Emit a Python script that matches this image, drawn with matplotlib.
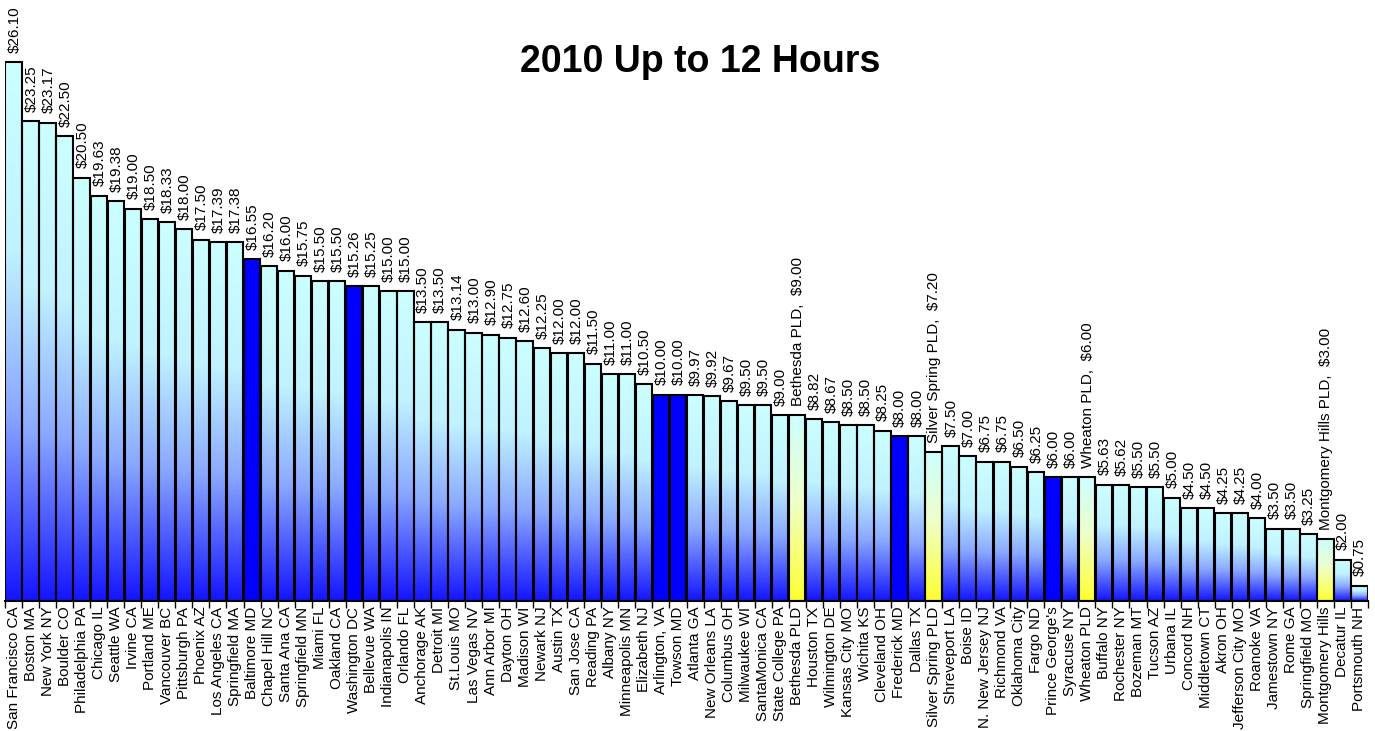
import matplotlib.pyplot as plt
import numpy as np
from matplotlib.colors import LinearSegmentedColormap

plt.rcParams['font.family'] = ['Liberation Sans', 'DejaVu Sans']

# Cities and hourly rate (up to 12 hours), 2010
cities = ['San Francisco CA', 'Boston MA', 'New York NY', 'Boulder CO', 'Philadelphia PA',
          'Chicago IL', 'Seattle WA', 'Irvine CA', 'Portland ME', 'Vancouver BC',
          'Pittsburgh PA', 'Phoenix AZ', 'Los Angeles CA', 'Springfield MA', 'Baltimore MD',
          'Chapel Hill NC', 'Santa Ana CA', 'Springfield MN', 'Miami FL', 'Oakland CA',
          'Washington DC', 'Bellevue WA', 'Indianapolis IN', 'Orlando FL', 'Anchorage AK',
          'Detroit MI', 'St.Louis MO', 'Las Vegas NV', 'Ann Arbor MI', 'Dayton OH',
          'Madison WI', 'Newark NJ', 'Austin TX', 'San Jose CA', 'Reading PA',
          'Albany NY', 'Minneapolis MN', 'Elizabeth NJ', 'Arlington, VA', 'Towson MD',
          'Atlanta GA', 'New Orleans LA', 'Columbus OH', 'Milwaukee WI', 'SantaMonica CA',
          'State College PA', 'Bethesda PLD', 'Houston TX', 'Wilmington DE', 'Kansas City MO',
          'Wichita KS', 'Cleveland OH', 'Frederick MD', 'Dallas TX', 'Silver Spring PLD',
          'Shreveport LA', 'Boise ID', 'N. New Jersey NJ', 'Richmond VA', 'Oklahoma City',
          'Fargo ND', "Prince George's", 'Syracuse NY', 'Wheaton PLD', 'Buffalo NY',
          'Rochester NY', 'Bozeman MT', 'Tucson AZ', 'Urbana IL', 'Concord NH',
          'Middletown CT', 'Akron OH', 'Jefferson City MO', 'Roanoke VA', 'Jamestown NY',
          'Rome GA', 'Springfield MO', 'Montgomery Hills', 'Decatur IL', 'Portsmouth NH']

rates = [26.10, 23.25, 23.17, 22.50, 20.50, 19.63, 19.38, 19.00, 18.50, 18.33,
         18.00, 17.50, 17.39, 17.38, 16.55, 16.20, 16.00, 15.75, 15.50, 15.50,
         15.26, 15.25, 15.00, 15.00, 13.50, 13.50, 13.14, 13.00, 12.90, 12.75,
         12.60, 12.25, 12.00, 12.00, 11.50, 11.00, 11.00, 10.50, 10.00, 10.00,
         9.97, 9.92, 9.67, 9.50, 9.50, 9.00, 9.00, 8.82, 8.67, 8.50,
         8.50, 8.25, 8.00, 8.00, 7.20, 7.50, 7.00, 6.75, 6.75, 6.50,
         6.25, 6.00, 6.00, 6.00, 5.63, 5.62, 5.50, 5.50, 5.00, 4.50,
         4.50, 4.25, 4.25, 4.00, 3.50, 3.50, 3.25, 3.00, 2.00, 0.75]

# Maryland area jurisdictions (solid blue) and library garages (yellow)
maryland = ['Baltimore MD', 'Washington DC', 'Arlington, VA', 'Towson MD',
            'Frederick MD', "Prince George's"]
pld_names = {'Bethesda PLD': 'Bethesda PLD', 'Silver Spring PLD': 'Silver Spring PLD',
             'Wheaton PLD': 'Wheaton PLD', 'Montgomery Hills': 'Montgomery Hills PLD'}

cmap_city = LinearSegmentedColormap.from_list(
    'city', [(0.0, '#ccffff'), (0.35, '#c0f2ff'), (0.65, '#8aa8ff'), (1.0, '#1414ff')])
cmap_pld = LinearSegmentedColormap.from_list(
    'pld', [(0.0, '#ccffff'), (0.45, '#eeffcc'), (1.0, '#ffff30')])
grad = np.linspace(0, 1, 256).reshape(-1, 1)

fig = plt.figure(figsize=(13.75, 7.31), dpi=100)
ax = fig.add_axes([5 / 1375, 130 / 731, 1363 / 1375, 601 / 731])

x = np.arange(len(cities))
w = 0.96
for xi, name, val in zip(x, cities, rates):
    if name in maryland:
        ax.bar(xi, val, width=w, color='#0000ff', edgecolor='black', linewidth=1.5, zorder=3)
    else:
        cm = cmap_pld if name in pld_names else cmap_city
        ax.imshow(grad, cmap=cm, aspect='auto', interpolation='bilinear',
                  extent=[xi - w / 2, xi + w / 2, 0, val], origin='upper', zorder=2)
        ax.bar(xi, val, width=w, facecolor='none', edgecolor='black', linewidth=1.5, zorder=3)

    if name in pld_names:
        label = f'{pld_names[name]},  ${val:.2f}'
    else:
        label = f'${val:.2f}'
    ax.text(xi + 0.05, val + 0.45, label, rotation=90, ha='center', va='bottom',
            fontsize=11, zorder=4)

ax.set_xlim(-0.5, len(cities) - 0.5)
ax.set_ylim(0, 601 / 20.65)
ax.set_xticks(x)
ax.set_xticklabels(cities, rotation=90, fontsize=11)
ax.tick_params(axis='x', which='major', length=0, pad=4)
ax.set_xticks(np.arange(len(cities) + 1) - 0.5, minor=True)
ax.tick_params(axis='x', which='minor', length=5, width=1, color='black')
ax.set_yticks([])
for s in ['left', 'right', 'top']:
    ax.spines[s].set_visible(False)
ax.spines['bottom'].set_linewidth(1.5)

fig.text(0.509, 1 - 62 / 731, '2010 Up to 12 Hours', ha='center', va='center',
         fontsize=27, fontweight='bold')

fig.savefig('out.png', dpi=100)
